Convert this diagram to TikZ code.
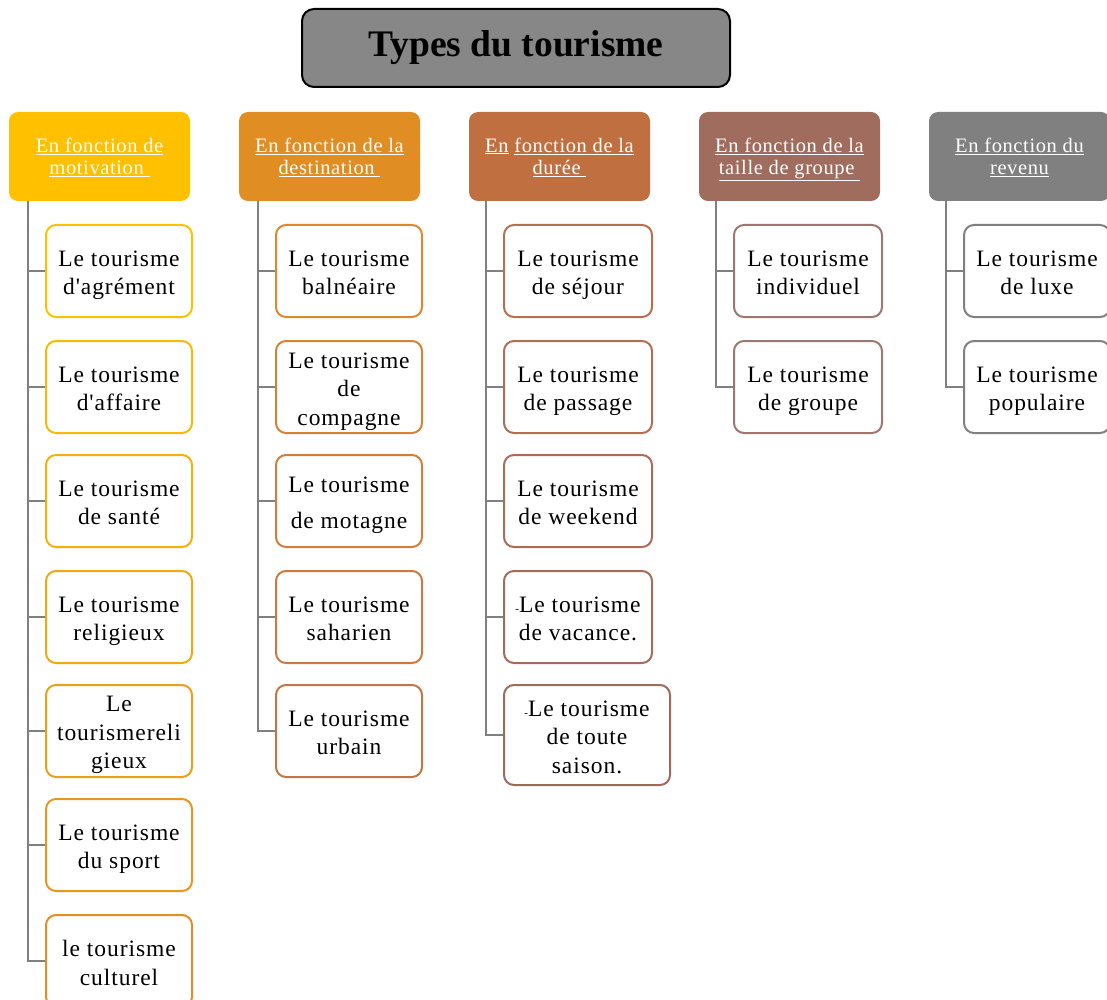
\documentclass[tikz,border=0pt]{standalone}
\usepackage{fontspec}
\setmainfont{Liberation Serif}
\newfontfamily\boxfont[LetterSpace=4]{Liberation Serif}
\newfontfamily\headfont[LetterSpace=3]{Liberation Serif}
\definecolor{titlegray}{RGB}{135,135,135}
\definecolor{hA}{RGB}{255,192,0}
\definecolor{hB}{RGB}{224,141,36}
\definecolor{hC}{RGB}{192,112,64}
\definecolor{hD}{RGB}{160,108,94}
\definecolor{hE}{RGB}{128,128,128}
\definecolor{connc}{RGB}{128,128,128}
\definecolor{bA1}{RGB}{255,192,0}
\definecolor{bA7}{RGB}{226,142,40}
\definecolor{bB1}{RGB}{222,135,45}
\definecolor{bB5}{RGB}{196,117,70}
\definecolor{bC1}{RGB}{185,110,80}
\definecolor{bC5}{RGB}{160,105,92}
\definecolor{bD}{RGB}{158,120,112}
\definecolor{bE}{RGB}{128,128,128}
\tikzset{
  titlebox/.style={draw=black, line width=2pt, fill=titlegray, rounded corners=12pt,
    minimum width=428pt, minimum height=78pt, font=\fontsize{37.5}{42}\selectfont\bfseries},
  headbox/.style={rounded corners=9pt, minimum width=181pt, minimum height=89pt,
    text=white, align=center, font=\headfont\fontsize{20.5}{22}\selectfont,
    execute at begin node={\rule{0pt}{42pt}}, execute at end node={\strut}},
  kidbox/.style={draw, line width=2pt, fill=white, rounded corners=10pt, minimum width=146pt,
    minimum height=92pt, inner sep=0pt},
  kidtext/.style={align=center, font=\boxfont\fontsize{23.5}{28.5}\selectfont, inner sep=0pt,
    execute at end node={\strut}},
  conn/.style={draw=connc, line width=2.2pt}
}
\newcommand\kidnode[4][]{%
  \node[kidbox,#1] (#2) at (#3) {};
  \node[kidtext] (#2t) at ([yshift=-6pt]#2.center) {#4};}
\begin{document}
\begin{tikzpicture}[x=1pt,y=-1pt]
\useasboundingbox (0,0) rectangle (1107,1000);
\clip (0,0) rectangle (1107,1000);

\node[titlebox] (title) at (516,48) {Types du tourisme};

\node[headbox, fill=hA] (h1) at (99.5,156.5) {\underline{En fonction de}\\\underline{motivation\ }};
\node[headbox, fill=hB] (h2) at (329.5,156.5) {\underline{En fonction de la}\\\underline{destination\ }};
\node[headbox, fill=hC] (h3) at (559.5,156.5) {\underline{En} \underline{fonction de la}\\\underline{durée\ }};
\node[headbox, fill=hD] (h4) at (789.5,156.5) {\underline{En fonction de la}\\\underline{taille de groupe\ }};
\node[headbox, fill=hE] (h5) at (1019.5,156.5) {\underline{En fonction du}\\\underline{revenu}};

% column 1
\kidnode[draw=bA1]{a1}{119,271}{Le tourisme\\d'agrément}
\kidnode[draw=bA1!85!bA7]{a2}{119,387}{Le tourisme\\d'affaire}
\kidnode[draw=bA1!68!bA7]{a3}{119,501}{Le tourisme\\de santé}
\kidnode[draw=bA1!52!bA7]{a4}{119,617}{Le tourisme\\religieux}
\kidnode[draw=bA1!35!bA7]{a5}{119,731}{Le\\tourismereli\\gieux}
\kidnode[draw=bA1!18!bA7]{a6}{119,845}{Le tourisme\\du sport}
\kidnode[draw=bA7]{a7}{119,961}{le tourisme\\culturel}

% column 2
\kidnode[draw=bB1]{b1}{349,271}{Le tourisme\\balnéaire}
\kidnode[draw=bB1!75!bB5]{b2}{349,387}{Le tourisme\\de\\compagne}
\kidnode[draw=bB1!50!bB5]{b3}{349,501}{Le tourisme\\[8pt]de motagne}
\kidnode[draw=bB1!25!bB5]{b4}{349,617}{Le tourisme\\saharien}
\kidnode[draw=bB5]{b5}{349,731}{Le tourisme\\urbain}

% column 3
\kidnode[draw=bC1, minimum width=148pt]{c1}{578,271}{Le tourisme\\de séjour}
\kidnode[draw=bC1!75!bC5, minimum width=148pt]{c2}{578,387}{Le tourisme\\de passage}
\kidnode[draw=bC1!50!bC5, minimum width=148pt]{c3}{578,501}{Le tourisme\\de weekend}
\kidnode[draw=bC1!25!bC5, minimum width=148pt]{c4}{578,617}{{\fontsize{11}{12}\selectfont -}Le tourisme\\de vacance.}
\kidnode[draw=bC5, minimum width=166pt, minimum height=100pt]{c5}{587,735}{{\fontsize{11}{12}\selectfont -}Le tourisme\\de toute\\saison.}

% column 4
\kidnode[draw=bD, minimum width=148pt]{d1}{808,271}{Le tourisme\\individuel}
\kidnode[draw=bD, minimum width=148pt]{d2}{808,387}{Le tourisme\\de groupe}

% column 5
\kidnode[draw=bE]{e1}{1037,271}{Le tourisme\\de luxe}
\kidnode[draw=bE]{e2}{1037,387}{Le tourisme\\populaire}

% connectors
\foreach \k in {a1,a2,a3,a4,a5,a6,a7}{\draw[conn] ([xshift=19pt]h1.south west) |- (\k.west);}
\foreach \k in {b1,b2,b3,b4,b5}{\draw[conn] ([xshift=19pt]h2.south west) |- (\k.west);}
\foreach \k in {c1,c2,c3,c4,c5}{\draw[conn] ([xshift=17pt]h3.south west) |- (\k.west);}
\foreach \k in {d1,d2}{\draw[conn] ([xshift=17pt]h4.south west) |- (\k.west);}
\foreach \k in {e1,e2}{\draw[conn] ([xshift=17pt]h5.south west) |- (\k.west);}
\end{tikzpicture}
\end{document}
